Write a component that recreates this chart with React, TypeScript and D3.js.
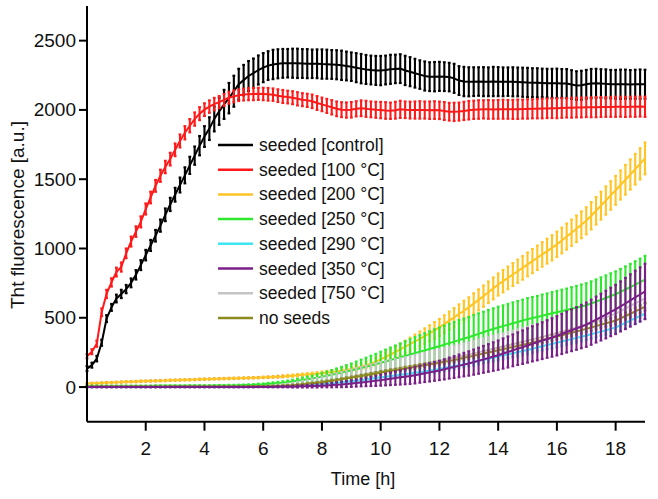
import React from "react";
import * as d3 from "d3";

// sampling schedule: one reading every 10 minutes, 0 .. 19 h
const minutes: number[] = d3.range(0, 1141, 10);

const control = [
  133,158,205,320,494,575,639,672,707,752,
  810,880,952,1022,1092,1165,1243,1318,1388,1458,
  1528,1600,1670,1742,1808,1865,1935,1990,2040,2085,
  2135,2185,2215,2245,2265,2288,2305,2320,2328,2333,
  2336,2337,2337,2336,2335,2334,2333,2333,2331,2330,
  2328,2326,2322,2317,2312,2305,2298,2292,2288,2285,
  2284,2288,2293,2296,2298,2285,2276,2265,2255,2245,
  2240,2240,2242,2240,2237,2228,2212,2205,2203,2204,
  2205,2204,2203,2205,2204,2203,2204,2203,2202,2200,
  2198,2197,2196,2195,2193,2192,2192,2191,2190,2183,
  2176,2178,2185,2190,2192,2190,2188,2186,2185,2185,
  2186,2184,2185,2186,2185,
];
const controlErr = [
  18,18,20,22,25,25,28,30,30,32,
  34,36,38,40,42,44,46,48,50,54,
  58,62,66,70,75,82,90,98,105,110,
  112,112,110,108,106,105,105,104,106,105,
  104,103,105,106,104,105,103,104,106,105,
  104,105,106,104,103,105,106,105,104,105,
  106,104,105,103,104,106,105,104,103,105,
  104,106,105,104,103,105,104,106,105,104,
  103,105,104,106,105,104,103,105,104,105,
  106,104,105,103,104,105,106,104,105,104,
  103,105,104,106,105,104,105,103,104,106,
  105,104,105,106,105,
];

const s100 = [
  222,255,313,540,672,755,830,866,965,1050,
  1122,1192,1285,1368,1452,1525,1588,1645,1712,1776,
  1835,1886,1934,1973,2002,2024,2042,2056,2072,2088,
  2098,2106,2111,2114,2115,2116,2115,2113,2110,2103,
  2097,2093,2088,2080,2074,2069,2062,2050,2040,2029,
  2019,2008,2002,1999,2001,2008,2012,2008,2004,2001,
  1999,1996,1994,1998,2004,2001,1999,1999,2000,1999,
  1998,1999,1997,1992,1987,1986,1988,1993,1998,2001,
  2003,2004,2004,2003,2004,2005,2004,2004,2005,2006,
  2007,2008,2009,2010,2011,2012,2012,2014,2015,2016,
  2017,2018,2019,2019,2020,2021,2021,2022,2023,2023,
  2022,2023,2023,2024,2023,
];
const s100Err = [
  15,18,22,28,30,30,32,33,35,36,
  38,40,40,42,43,44,45,46,46,47,
  48,48,48,47,46,45,45,44,44,43,
  43,42,43,44,45,44,45,46,45,46,
  47,46,47,48,47,48,49,50,49,51,
  52,53,54,55,56,55,57,58,57,58,
  59,60,59,61,62,60,61,62,63,62,
  63,64,63,65,64,66,65,66,67,66,
  67,66,68,67,68,69,68,69,70,69,
  70,69,70,71,70,71,72,71,70,72,
  71,72,71,72,73,72,71,72,73,72,
  73,72,73,72,73,
];

const s200 = [
  25,27,28,30,32,33,35,
  36,38,39,40,42,43,
  44,45,46,47,49,50,
  51,52,53,54,56,57,
  58,59,60,61,62,63,
  64,65,66,67,68,70,
  71,73,75,77,80,82,
  85,88,91,94,97,100,
  104,108,113,118,124,130,
  138,147,157,168,183,200,
  217,235,253,272,291,310,
  329,348,368,388,409,430,
  454,479,503,527,551,575,
  602,629,656,684,712,740,
  764,788,812,836,860,885,
  909,933,957,981,1005,1030,
  1058,1086,1114,1142,1171,1200,
  1236,1272,1309,1346,1383,1420,
  1458,1496,1534,1572,1611,1650,
];
const s200Err = [
  4,4,4,4,4,4,4,5,5,5,
  5,5,5,5,5,5,5,5,5,5,
  5,5,5,5,5,5,5,5,5,5,
  5,5,5,5,5,5,5,6,6,7,
  7,8,8,9,9,10,10,11,12,13,
  14,15,16,18,19,21,22,24,26,28,
  30,33,35,38,41,44,47,50,53,56,
  58,60,62,64,66,68,70,72,73,75,
  76,77,78,79,80,81,82,83,84,85,
  86,87,88,89,90,91,92,93,94,95,
  96,97,98,99,100,101,102,103,104,105,
  107,109,111,113,115,
];

const s250 = [
  8,8,8,8,8,8,8,
  8,8,8,8,8,8,
  8,9,9,9,9,9,
  9,9,10,10,10,10,
  10,11,11,11,12,12,
  13,14,15,16,18,20,
  23,26,29,32,36,40,
  45,51,57,62,68,75,
  82,89,96,104,112,120,
  129,138,147,156,165,175,
  185,195,205,215,225,235,
  245,255,265,275,285,295,
  306,317,328,339,350,360,
  372,384,396,408,419,430,
  440,450,460,470,480,490,
  498,506,515,523,532,540,
  548,556,565,573,582,590,
  603,616,630,643,657,670,
  687,704,721,739,757,775,
];
const s250Err = [
  3,3,3,3,3,3,3,3,3,3,
  3,3,3,3,3,3,3,3,3,3,
  3,3,3,3,3,3,3,4,4,4,
  4,4,4,5,5,6,6,7,8,9,
  10,11,13,15,17,19,21,24,27,30,
  34,38,42,46,50,55,60,65,70,75,
  80,85,90,95,100,105,110,115,120,124,
  128,132,135,138,140,142,144,145,146,147,
  148,148,149,149,150,150,150,151,151,151,
  152,152,152,153,153,154,154,155,155,156,
  157,158,159,160,161,162,163,164,165,166,
  167,168,169,170,172,
];

const s290 = [
  1,1,1,1,1,1,1,
  1,1,1,1,1,1,
  1,1,1,1,2,2,
  2,2,2,2,2,2,
  2,2,2,2,2,2,
  2,2,3,3,3,3,
  3,4,5,6,7,8,
  10,11,13,15,17,20,
  23,27,30,34,38,42,
  46,50,55,60,65,70,
  74,79,84,88,93,98,
  103,108,113,119,124,130,
  137,144,151,158,165,172,
  180,188,196,204,212,220,
  228,236,244,252,260,268,
  277,286,294,303,311,320,
  329,338,346,355,363,372,
  381,391,400,410,420,430,
  447,463,480,497,513,530,
];
const s290Err = [
  2,2,2,2,2,2,2,2,2,2,
  2,2,2,2,2,2,2,2,2,2,
  2,2,2,2,2,2,2,2,2,2,
  2,2,2,2,2,2,2,3,3,3,
  3,3,4,4,4,4,5,5,5,6,
  6,6,7,7,8,8,9,9,10,10,
  11,11,12,12,13,13,14,14,15,15,
  16,16,17,17,18,18,19,19,20,20,
  21,21,22,22,23,23,24,24,25,25,
  26,26,27,27,28,28,29,29,30,30,
  31,31,32,32,33,33,34,34,35,35,
  36,36,37,37,38,
];

const s350 = [
  0,0,0,0,0,0,0,
  0,0,0,0,0,0,
  0,0,0,0,0,0,
  0,0,0,0,0,0,
  0,0,0,0,0,0,
  0,0,0,0,1,1,
  1,1,2,2,3,3,
  4,5,6,7,8,10,
  12,14,17,19,22,25,
  29,33,37,41,45,50,
  55,60,65,70,75,80,
  86,93,100,106,113,120,
  128,137,145,153,162,170,
  180,190,200,210,220,230,
  242,253,265,277,288,300,
  312,323,335,347,358,370,
  383,397,410,423,437,450,
  468,487,505,523,542,560,
  582,603,625,647,668,690,
];
const s350Err = [
  2,2,2,2,2,2,2,2,2,2,
  2,2,2,2,2,2,2,2,2,2,
  2,2,2,2,2,2,2,2,2,2,
  2,2,2,2,2,2,2,3,3,4,
  4,5,6,7,8,9,10,11,12,14,
  16,18,20,22,24,26,28,31,34,37,
  40,43,46,49,52,55,58,60,62,64,
  66,68,70,73,76,79,82,85,88,91,
  94,97,100,103,106,109,112,115,118,121,
  124,127,130,133,136,139,142,145,148,151,
  154,157,160,163,166,169,172,175,178,181,
  185,189,193,196,200,
];

const s750 = [
  2,2,2,2,2,2,2,
  2,2,2,2,2,2,
  2,2,2,2,2,2,
  2,2,2,2,2,2,
  2,2,2,2,2,2,
  3,3,4,4,5,5,
  6,7,9,11,13,15,
  19,23,27,31,35,40,
  45,51,57,63,69,75,
  82,88,95,102,108,115,
  121,127,133,139,144,150,
  157,163,170,177,183,190,
  198,205,213,220,228,235,
  243,252,260,268,277,285,
  293,302,310,318,327,335,
  344,353,362,372,381,390,
  400,410,420,430,440,450,
  463,476,490,503,517,530,
  548,566,585,603,622,640,
];
const s750Err = [
  2,2,2,2,2,2,2,2,2,2,
  2,2,2,2,2,2,2,2,2,2,
  2,2,2,2,2,2,2,2,2,2,
  2,2,2,3,3,3,3,4,6,8,
  10,13,16,19,22,25,28,31,34,37,
  40,43,46,49,52,55,58,60,62,64,
  66,67,68,70,71,72,74,75,77,78,
  80,81,82,83,84,85,86,87,88,89,
  90,91,92,93,94,95,96,97,98,99,
  100,101,102,103,104,105,106,107,108,109,
  110,111,112,113,114,115,116,117,118,119,
  120,121,122,123,124,
];

const noSeeds = [
  3,3,3,3,3,3,3,
  3,3,3,3,3,3,
  3,3,3,3,4,4,
  4,4,4,4,4,4,
  4,4,4,4,4,4,
  4,4,5,5,5,5,
  6,7,8,9,11,13,
  16,19,23,27,31,35,
  40,45,50,56,62,68,
  74,80,86,92,98,105,
  111,117,122,128,134,140,
  146,152,158,164,169,175,
  182,189,196,203,211,218,
  226,234,242,249,257,265,
  273,281,289,297,305,313,
  322,330,339,347,356,365,
  374,383,392,401,411,420,
  430,440,450,460,470,480,
  496,513,529,546,563,580,
];
const noSeedsErr = [
  2,2,2,2,2,2,2,2,2,2,
  2,2,2,2,2,2,2,2,2,2,
  2,2,2,2,2,2,2,2,2,2,
  2,2,2,2,2,2,2,3,3,3,
  3,4,4,4,5,5,5,6,6,6,
  7,7,7,8,8,8,9,9,9,10,
  10,10,11,11,11,12,12,12,13,13,
  13,14,14,14,15,15,15,16,16,16,
  17,17,17,18,18,18,19,19,19,20,
  20,20,21,21,21,22,22,22,23,23,
  23,24,24,24,25,25,25,26,26,26,
  27,27,28,28,29,
];

const legendLabels = [
  "seeded [control]",
  "seeded [100 °C]",
  "seeded [200 °C]",
  "seeded [250 °C]",
  "seeded [290 °C]",
  "seeded [350 °C]",
  "seeded [750 °C]",
  "no seeds",
];
const colors = ["#000000", "#ff1a1a", "#ffc525", "#2ee82e", "#3de6f2", "#7a1f88", "#c4c4c4", "#8a8a1e"];
const capColors = ["#000000", "#ff1a1a", "#f5a623", "#2ee82e", "#3de6f2", "#7a1f88", "#c4c4c4", "#8a8a1e"];
const seriesValues = [control, s100, s200, s250, s290, s350, s750, noSeeds];
const seriesErrors = [controlErr, s100Err, s200Err, s250Err, s290Err, s350Err, s750Err, noSeedsErr];
const drawOrder = [0, 1, 2, 3, 6, 4, 7, 5];

const xTicks = [2, 4, 6, 8, 10, 12, 14, 16, 18];
const yTicks = [0, 500, 1000, 1500, 2000, 2500];

const W = 658, H = 499;
const FONT = "'Liberation Sans', Arial, Helvetica, sans-serif";

export default function App() {
  const x = d3.scaleLinear().domain([0, 19]).range([87, 645]);
  const y = d3.scaleLinear().domain([-250, 2750]).range([421.7, 6]);
  const hours = minutes.map((m) => m / 60);

  const line = d3
    .line<[number, number]>()
    .x((d) => x(d[0]))
    .y((d) => y(d[1]))
    .curve(d3.curveLinear);

  const series = drawOrder.map((k) => {
    const vals = seriesValues[k];
    const errs = seriesErrors[k];
    const n = Math.min(vals.length, errs.length, hours.length);
    const pts: [number, number][] = [];
    for (let i = 0; i < n; i++) pts.push([hours[i], vals[i]]);
    return { k, pts, errs: errs.slice(0, n) };
  });

  return (
    <svg
      width={W}
      height={H}
      viewBox={`0 0 ${W} ${H}`}
      style={{ position: "absolute", left: 0, top: 0, background: "#fff" }}
      fontFamily={FONT}
    >
      <rect x={0} y={0} width={W} height={H} fill="#fff" />
      {series.map(({ k, pts, errs }) => (
        <g key={k}>
          <g strokeWidth={2.1}>
            {pts.map((p, i) => {
              const cx = x(p[0]);
              const y1 = y(p[1] - errs[i]);
              const y2 = y(p[1] + errs[i]);
              const small = errs[i] < 8 && k === 2;
              return (
                <g key={i}>
                  <line x1={cx} x2={cx} y1={y1} y2={y2} stroke={colors[k]} />
                  <line x1={cx - 1.4} x2={cx + 1.4} y1={y1} y2={y1} stroke={small ? capColors[k] : colors[k]} />
                  <line x1={cx - 1.4} x2={cx + 1.4} y1={y2} y2={y2} stroke={small ? capColors[k] : colors[k]} />
                </g>
              );
            })}
          </g>
          <path d={line(pts) || ""} fill="none" stroke={colors[k]} strokeWidth={2} />
        </g>
      ))}

      {/* axes */}
      <g stroke="#000" strokeWidth={2} fill="none">
        <line x1={87} x2={87} y1={y(2750)} y2={y(-250)} />
        <line x1={87} x2={645} y1={y(-250)} y2={y(-250)} />
        {yTicks.map((t) => (
          <line key={"yt" + t} x1={79} x2={87} y1={y(t)} y2={y(t)} />
        ))}
        {xTicks.map((t) => (
          <line key={"xt" + t} x1={x(t)} x2={x(t)} y1={y(-250)} y2={y(-250) + 9} />
        ))}
      </g>
      <g fontSize={19} fill="#111">
        {yTicks.map((t) => (
          <text key={"yl" + t} x={76} y={y(t)} textAnchor="end" dominantBaseline="central">
            {t}
          </text>
        ))}
        {xTicks.map((t) => (
          <text key={"xl" + t} x={x(t)} y={455} textAnchor="middle">
            {t}
          </text>
        ))}
      </g>
      <text x={363} y={485} fontSize={18} textAnchor="middle" fill="#111">
        Time [h]
      </text>
      <text
        transform="translate(24,215) rotate(-90)"
        fontSize={19}
        textAnchor="middle"
        fill="#111"
      >
        Tht fluorescence [a.u.]
      </text>

      {/* legend */}
      {legendLabels.map((lab, i) => {
        const ly = 145 + i * 24.7;
        return (
          <g key={lab}>
            <line x1={218} x2={253} y1={ly} y2={ly} stroke={colors[i]} strokeWidth={2.5} />
            <text x={259} y={ly} fontSize={17.5} dominantBaseline="central" fill="#111">
              {lab}
            </text>
          </g>
        );
      })}
    </svg>
  );
}
